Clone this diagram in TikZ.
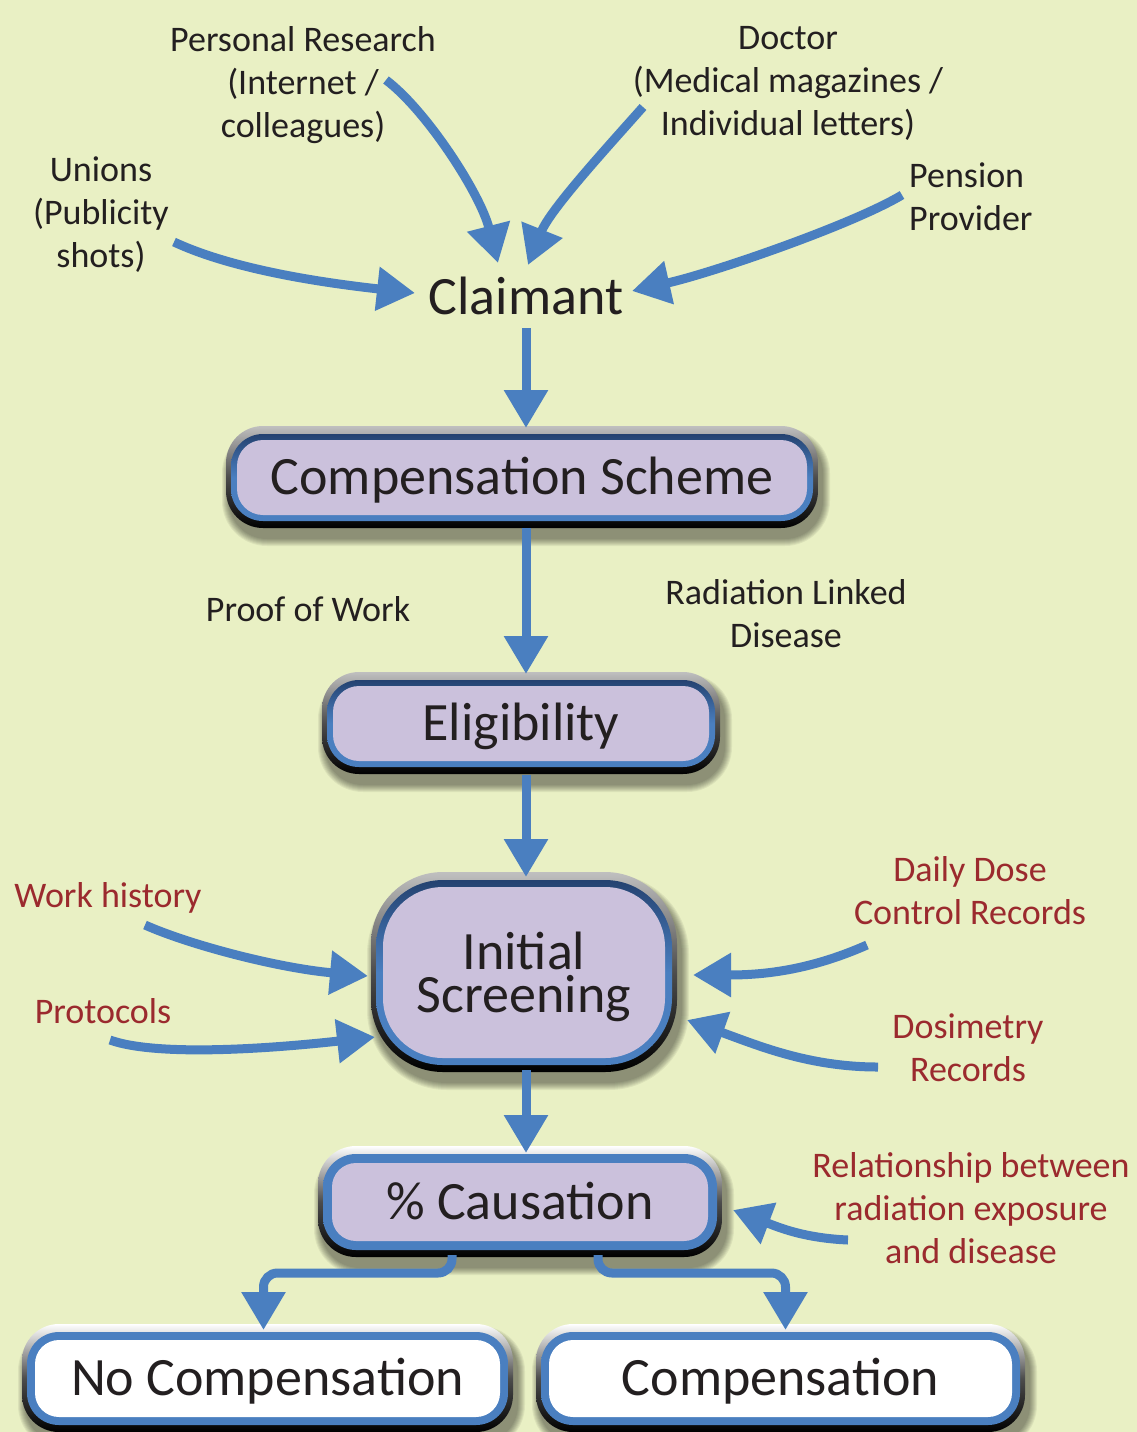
\documentclass[tikz,border=0pt]{standalone}
\usepackage{fontspec}
\setmainfont{Carlito}
\usetikzlibrary{arrows.meta,calc,backgrounds}

\definecolor{pagebg}{RGB}{233,240,196}
\definecolor{flowblue}{RGB}{74,127,192}
\definecolor{bandnavy}{RGB}{36,66,112}
\definecolor{lavender}{RGB}{203,193,220}
\definecolor{inkdark}{RGB}{35,31,32}
\definecolor{sourcered}{RGB}{155,42,46}

% Bevelled frame behind a stage node:
% #1 node, #2 blue band width, #3 inner corner radius,
% #4 top colour of the outer rim, #5 top colour of the blue band
\newcommand\stageframe[5]{%
  \begin{scope}[on background layer]
    % soft cast shadow
    \foreach \k in {1,...,8}{
      \fill[black, opacity=0.06, rounded corners={(#3+#2+5+\k)*1pt}]
        ($(#1.north west)+(-#2-5+4-\k,-#2-8+10-\k)$) rectangle
        ($(#1.south east)+(#2+5+4+\k,#2+7+10+\k)$);
    }
    % outer rim, light at the top and dark below
    \shade[rounded corners={(#3+#2+5)*1pt}, top color=#4, bottom color=black, middle color=black!70]
      ($(#1.north west)+(-#2-5,-#2-8)$) rectangle ($(#1.south east)+(#2+5,#2+7)$);
    % blue band
    \shade[rounded corners={(#3+#2)*1pt}, top color=#5, bottom color=flowblue, middle color=flowblue]
      ($(#1.north west)+(-#2,-#2)$) rectangle ($(#1.south east)+(#2,#2)$);
  \end{scope}}

\tikzset{
  bigtext/.style={font=\fontsize{54}{62}\selectfont, text=inkdark, inner sep=0pt,
    outer sep=0pt, text height=40pt, text depth=6pt},
  stagebox/.style={bigtext, fill=lavender, rounded corners=#1, align=center},
  endbox/.style={bigtext, fill=white, rounded corners=#1},
  % multi-line labels sit on the baseline of their last line
  source/.style={font=\fontsize{36}{43}\selectfont, text=inkdark, align=center,
    inner sep=0pt, anchor=base},
  datasrc/.style={source, text=sourcered},
  flow/.style={draw=flowblue, line width=9pt, -{Triangle[length=38pt,width=42pt]}},
}

\begin{document}
\begin{tikzpicture}[x=1pt, y=-1pt]
  \useasboundingbox (0,0) rectangle (1137,1432);
  \begin{scope}[on background layer]
    \fill[pagebg] (0,0) rectangle (1137,1432);
  \end{scope}

  % main stages
  \node[bigtext] (claim) at (526,297) {Claimant};
  \node[stagebox=26pt, minimum width=570pt, minimum height=75pt] (cs) at (522,477.5) {Compensation Scheme};
  \node[stagebox=26pt, minimum width=376pt, minimum height=75pt] (elig) at (521,723.5) {Eligibility};
  \node[stagebox=60pt, minimum width=282pt, minimum height=171pt,
        font=\fontsize{54}{43}\selectfont, text height=85pt, text depth=6pt]
        (screen) at (524,972.5) {Initial\\Screening};
  \node[stagebox=24pt, minimum width=376pt, minimum height=78pt] (cause) at (520,1202) {\% Causation};
  \node[endbox=24pt, minimum width=465pt, minimum height=77pt] (nocomp) at (267.5,1378.5) {No Compensation};
  \node[endbox=24pt, minimum width=463pt, minimum height=77pt] (comp) at (780.5,1378.5) {Compensation};

  \stageframe{cs}{6}{26}{white!75!black}{bandnavy}
  \stageframe{elig}{6}{26}{white!75!black}{bandnavy}
  \stageframe{screen}{7}{60}{white!75!black}{bandnavy}
  \stageframe{cause}{9}{24}{white}{flowblue}
  \stageframe{nocomp}{8}{24}{white}{flowblue}
  \stageframe{comp}{8}{24}{white}{flowblue}

  % information sources
  \node[source] (research) at (303,137) {Personal Research\\(Internet /\\colleagues)};
  \node[source] (doctor) at (788,135) {Doctor\\(Medical magazines /\\Individual letters)};
  \node[source] (unions) at (101,267) {Unions\\(Publicity\\shots)};
  \node[source, anchor=base west, align=left] (pension) at (909,230) {Pension\\Provider};
  \node[source] (proof) at (308,621) {Proof of Work};
  \node[source] (radiation) at (786,647) {Radiation Linked\\Disease};
  \node[datasrc] (workhist) at (108,907) {Work history};
  \node[datasrc] (protocols) at (103,1023) {Protocols};
  \node[datasrc] (dailydose) at (970,924) {Daily Dose\\Control Records};
  \node[datasrc] (dosimetry) at (968,1081) {Dosimetry\\Records};
  \node[datasrc] (relation) at (971,1263) {Relationship between\\radiation exposure\\and disease};

  % arrow ends
  \coordinate (unionsTail) at (174,242);   \coordinate (claimW)  at (415,293);
  \coordinate (researchTail) at (386,80);  \coordinate (claimNW) at (498,263);
  \coordinate (doctorTail) at (643,107);   \coordinate (claimNE) at (528,265);
  \coordinate (pensionTail) at (902,195);  \coordinate (claimE)  at (632,291);
  \coordinate (workTail) at (145,925);     \coordinate (screenW1) at (368,976);
  \coordinate (protoTail) at (110,1040);   \coordinate (screenW2) at (375,1037);
  \coordinate (doseTail) at (867,945);     \coordinate (screenE1) at (693,975);
  \coordinate (dosiTail) at (878,1067);    \coordinate (screenE2) at (687,1020);
  \coordinate (relTail) at (848,1240);     \coordinate (causeE)  at (733,1210);

  % sources feeding the claimant
  \draw[flow] (unionsTail) .. controls +(60,28) and +(-90,-10) .. (claimW);
  \draw[flow] (researchTail) .. controls +(40,30) and +(-18,-70) .. (claimNW);
  \draw[flow] (doctorTail) .. controls +(-40,45) and +(22,-55) .. (claimNE);
  \draw[flow] (pensionTail) .. controls +(-50,30) and +(80,-18) .. (claimE);

  % main flow
  \draw[flow, shorten <=8pt, shorten >=12pt] (claim.south) -- (cs.north -| claim.south);
  \draw[flow, shorten <=13pt, shorten >=12pt] (cs.south -| claim.south) -- (elig.north -| claim.south);
  \draw[flow, shorten <=14pt, shorten >=10pt] (elig.south -| claim.south) -- (screen.north -| claim.south);
  \draw[flow, shorten <=12pt, shorten >=10pt] (screen.south -| claim.south) -- (cause.north -| claim.south);

  % records used in screening and causation
  \draw[flow] (workTail) .. controls +(45,20) and +(-90,-8) .. (screenW1);
  \draw[flow] (protoTail) .. controls +(50,18) and +(-90,10) .. (screenW2);
  \draw[flow] (doseTail) .. controls +(-50,22) and +(80,0) .. (screenE1);
  \draw[flow] (dosiTail) .. controls +(-70,0) and +(70,25) .. (screenE2);
  \draw[flow] (relTail) .. controls +(-45,-2) and +(45,17) .. (causeE);

  % outcome fork
  \draw[flow, rounded corners=14pt, shorten <=14pt, shorten >=10pt]
    ([xshift=-68pt]cause.south) -- ++(0,32) -| ([xshift=-4pt]nocomp.north);
  \draw[flow, rounded corners=14pt, shorten <=14pt, shorten >=10pt]
    ([xshift=78pt]cause.south) -- ++(0,32) -| ([xshift=5pt]comp.north);
\end{tikzpicture}
\end{document}
